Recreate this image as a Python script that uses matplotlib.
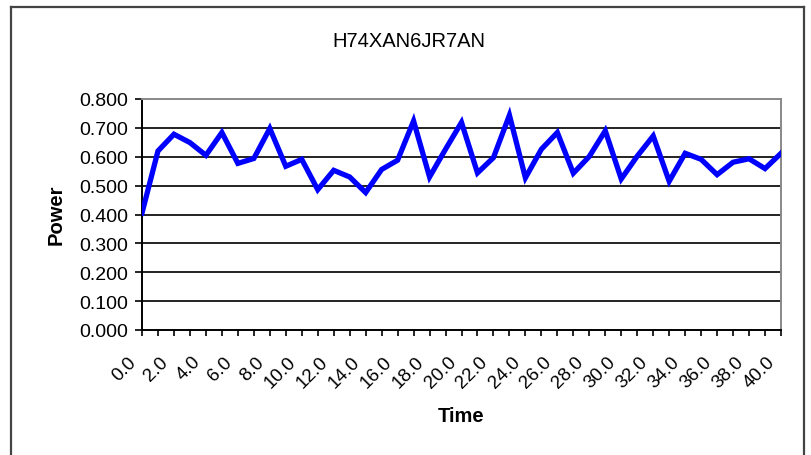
import matplotlib
matplotlib.use("Agg")
import matplotlib.pyplot as plt
from matplotlib.lines import Line2D
from matplotlib.transforms import ScaledTranslation

plt.rcParams['font.family'] = ['Liberation Sans', 'DejaVu Sans']

title = "H74XAN6JR7AN"
time = list(range(41))
power = [0.405, 0.620, 0.678, 0.649, 0.605, 0.684, 0.577, 0.594, 0.698, 0.567,
         0.591, 0.486, 0.553, 0.530, 0.476, 0.556, 0.588, 0.724, 0.530, 0.626,
         0.719, 0.544, 0.597, 0.744, 0.527, 0.626, 0.684, 0.543, 0.601, 0.690,
         0.523, 0.602, 0.672, 0.515, 0.612, 0.591, 0.538, 0.581, 0.593, 0.559,
         0.612]
xtick_labels = [f"{t:.1f}" if t % 2 == 0 else "" for t in time]
yticks = [0.0, 0.1, 0.2, 0.3, 0.4, 0.5, 0.6, 0.7, 0.8]
ytick_labels = [f"{v:.3f}" for v in yticks]

W, H = 811, 456
DPI = 100
fig = plt.figure(figsize=(W / DPI, H / DPI), dpi=DPI)
fig.patch.set_facecolor("white")

# outer chart border
bc = "#444444"
L, R, T = 11 / W, 804 / W, 1 - 7.5 / H
fig.add_artist(Line2D([L, L], [0, T], transform=fig.transFigure, color=bc, lw=1.6))
fig.add_artist(Line2D([R, R], [0, T], transform=fig.transFigure, color=bc, lw=1.6))
fig.add_artist(Line2D([L, R], [T, T], transform=fig.transFigure, color=bc, lw=1.6))

left, right, top, bottom = 142, 781, 100, 331
ax = fig.add_axes([left / W, 1 - bottom / H, (right - left) / W, (bottom - top) / H])
ax.plot(time, power, color="#0000FF", lw=3.8, solid_joinstyle="miter", zorder=3)

ax.set_xlim(0, 40)
ax.set_ylim(0, 0.8)
ax.set_yticks(yticks)
ax.set_yticklabels(ytick_labels, fontsize=14)
ax.set_xticks(time)
ax.set_xticklabels(xtick_labels, rotation=45, ha="right", va="baseline",
                   rotation_mode="anchor", fontsize=13.5)
ax.tick_params(axis="x", length=4.3, width=1.2, direction="out", pad=0, color="black")
ax.tick_params(axis="y", length=5, width=1.2, direction="out", pad=5, color="black")

off = ScaledTranslation(-5 / DPI, -26 / DPI, fig.dpi_scale_trans)
for lbl in ax.get_xticklabels():
    lbl.set_transform(lbl.get_transform() + off)

for v in yticks[1:-1]:
    ax.axhline(v, color="#111111", lw=1.3, zorder=1)

for s in ["left", "bottom"]:
    ax.spines[s].set_color("black")
    ax.spines[s].set_linewidth(1.4)
for s in ["top", "right"]:
    ax.spines[s].set_color("#888888")
    ax.spines[s].set_linewidth(1.4)

fig.text(461.5 / W, 1 - 422 / H, "Time", ha="center", va="baseline",
         fontsize=14.5, fontweight="bold")
fig.text(62 / W, 1 - 215 / H, "Power", ha="center", va="baseline", rotation=90,
         rotation_mode="anchor", fontsize=14.5, fontweight="bold")
fig.text(409 / W, 1 - 47 / H, title, ha="center", va="baseline", fontsize=14.5)

fig.savefig("out.png", dpi=DPI)
